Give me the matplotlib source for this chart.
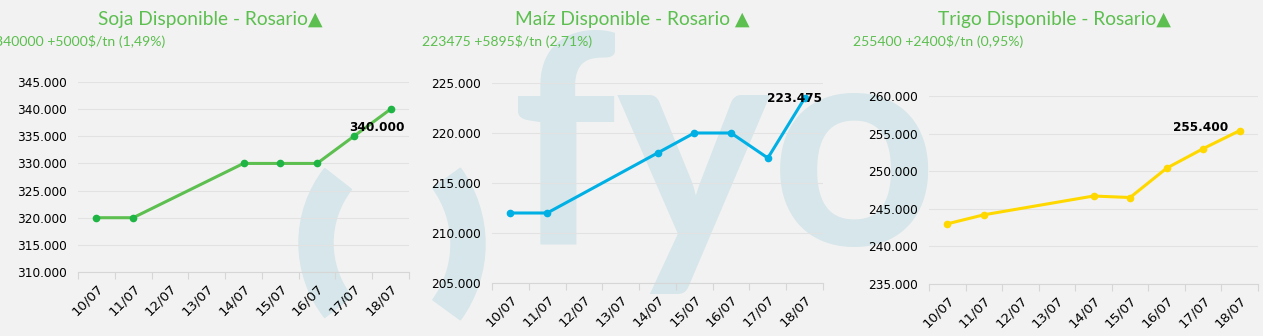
"""Precios disponibles Rosario (soja, maíz, trigo) — tres paneles con marca de agua fyo."""
import matplotlib
matplotlib.use("Agg")
import matplotlib.pyplot as plt
import numpy as np
from matplotlib.patches import Wedge
from matplotlib.transforms import IdentityTransform

W, H = 1263, 336

fechas = ["10/07", "11/07", "12/07", "13/07", "14/07", "15/07", "16/07", "17/07", "18/07"]

soja = [320000, 320000, None, None, 330000, 330000, 330000, 335000, 340000]
maiz = [212000, 212000, None, None, 218000, 220000, 220000, 217500, 223475]
trigo = [243000, 244200, None, None, 246700, 246500, 250400, 253000, 255400]

titulos = ["Soja Disponible - Rosario▲", "Maíz Disponible - Rosario ▲", "Trigo Disponible - Rosario▲"]
subtitulos = ["340000 +5000$/tn (1,49%)", "223475 +5895$/tn (2,71%)", "255400 +2400$/tn (0,95%)"]

BG = "#f2f2f2"
MARCA = "#d6e6ea"
VERDE_TXT = "#5cbf4f"
GRID = "#e2e2e2"


def fx(px):
    return px / W


def fy(py):
    return 1 - py / H


def box(x0, y0, x1, y1):
    # caja en píxeles (y desde arriba) -> rect de figura
    return [fx(x0), fy(y1), fx(x1) - fx(x0), (y1 - y0) / H]


fig = plt.figure(figsize=(W / 100, H / 100), dpi=100, facecolor=BG)

# ---- marca de agua "( ) fyo" (coordenadas en píxeles, origen abajo) ----
for cx, cy, r, t1, t2 in [(420, 243, 121, 142, 218), (356, 244, 129, -36, 36)]:
    fig.patches.append(Wedge((cx, H - cy), r, t1, t2, width=34, color=MARCA,
                             transform=IdentityTransform(), zorder=-5))
fig.text(fx(512), fy(245), "fyo", fontsize=210, family="Lato", weight="bold", color=MARCA,
         ha="left", va="baseline", zorder=-5)

# ---- paneles ----
paneles = [
    dict(vals=soja, color="#5cbf4f", mk="#1fb544", ylim=(310000, 345000),
         caja=(78, 82, 409, 272), tit_x=210, sub_x=-5, lab_off=(-14, -18)),
    dict(vals=maiz, color="#00b0e4", mk="#00b0e4", ylim=(205000, 225000),
         caja=(492, 83, 823, 283), tit_x=632, sub_x=422, lab_off=(-10, 0)),
    dict(vals=trigo, color="#ffd800", mk="#ffd800", ylim=(235000, 260000),
         caja=(929, 96, 1258, 284), tit_x=1054, sub_x=853, lab_off=(-39, 3)),
]

for p, tit, sub in zip(paneles, titulos, subtitulos):
    ax = fig.add_axes(box(*p["caja"]))
    ax.patch.set_alpha(0)
    idx = [i for i, v in enumerate(p["vals"]) if v is not None]
    ys = [p["vals"][i] for i in idx]
    ax.plot(idx, ys, color=p["color"], lw=2.2, zorder=3)
    ax.plot(idx, ys, ls="none", marker="o", ms=4.5, color=p["mk"], zorder=4)

    ax.set_xlim(-0.5, len(fechas) - 0.5)
    ax.set_ylim(*p["ylim"])
    ax.set_yticks(np.arange(p["ylim"][0], p["ylim"][1] + 1, 5000))
    ax.set_yticklabels([f"{v:,.0f}".replace(",", ".") for v in ax.get_yticks()])
    ax.set_xticks(range(len(fechas)))
    ax.set_xticklabels(fechas, rotation=45, ha="right", va="top", rotation_mode="anchor")
    ax.set_xticks(np.arange(-0.5, len(fechas)), minor=True)
    ax.tick_params(axis="x", which="major", length=0, pad=7, labelsize=9.6)
    ax.tick_params(axis="x", which="minor", length=5, color="#d6d6d6", width=0.8)
    ax.tick_params(axis="y", length=0, pad=8, labelsize=8.7)
    ax.grid(axis="y", color=GRID, lw=0.8, zorder=0)
    for s in ["top", "right", "left"]:
        ax.spines[s].set_visible(False)
    ax.spines["bottom"].set_color("#d6d6d6")
    ax.spines["bottom"].set_linewidth(0.8)

    v = ys[-1]
    ax.annotate(f"{v:,.0f}".replace(",", "."), (idx[-1], v),
                xytext=(p["lab_off"][0] * 0.72, p["lab_off"][1] * 0.72),
                textcoords="offset points", ha="center", va="center",
                fontsize=8.7, weight="bold", color="black", zorder=5)

    fig.text(fx(p["tit_x"]), fy(19), tit, fontsize=13.8, family=["Lato", "DejaVu Sans"],
             color=VERDE_TXT, ha="center", va="center")
    fig.text(fx(p["sub_x"]), fy(42), sub, fontsize=10.1, family=["Lato", "DejaVu Sans"],
             color=VERDE_TXT, ha="left", va="center")

fig.savefig("out.png", dpi=100, facecolor=BG)
